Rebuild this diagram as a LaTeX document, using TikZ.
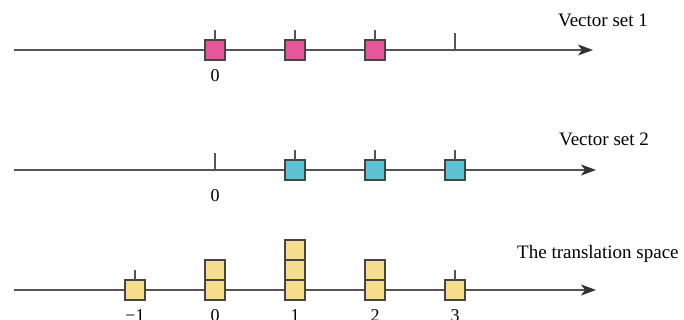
\documentclass[tikz,border=0pt]{standalone}
\usepackage{fontspec}
\setmainfont{Liberation Serif}
\usetikzlibrary{arrows.meta}
\definecolor{axisgray}{HTML}{555555}
\definecolor{cellgray}{HTML}{454545}
\definecolor{pinkfill}{HTML}{E4579B}
\definecolor{cyanfill}{HTML}{5DC3D3}
\definecolor{yellowfill}{HTML}{F6DD8E}
\begin{document}
\begin{tikzpicture}[x=1pt,y=1pt,
  axis/.style={draw=axisgray, line width=1.4pt, -{Stealth[length=15pt,width=11pt,inset=4pt,color=black!80]}},
  tickline/.style={draw=axisgray, line width=1.3pt},
  cell/.style={draw=cellgray, line width=1.1pt, minimum size=20pt, inner sep=0pt, outer sep=0pt},
  pinkcell/.style={cell, fill=pinkfill},
  cyancell/.style={cell, fill=cyanfill},
  yellowcell/.style={cell, fill=yellowfill},
  lbl/.style={font=\fontsize{18}{20}\selectfont, inner sep=0pt},
  title/.style={font=\fontsize{19}{22}\selectfont, inner sep=0pt}
]
\useasboundingbox (0,0) rectangle (684,-320);

% ---------- vector set 1 ----------
\coordinate (a1s) at (14,-50);
\coordinate (a1e) at (593,-50);
\draw[axis] (a1s) -- (a1e);
\node[pinkcell] (p0) at (215,-50) {};
\node[pinkcell] (p1) at (295,-50) {};
\node[pinkcell] (p2) at (375,-50) {};
\coordinate (t13) at (455,-50);
\foreach \n in {p0,p1,p2} \draw[tickline] (\n.north) -- ++(0,10);
\draw[tickline] (t13) -- ++(0,17);
\node[lbl] (l10) at (215,-76) {0};
\node[title] (v1) at (603,-20) {Vector set 1};

% ---------- vector set 2 ----------
\coordinate (a2s) at (14,-170);
\coordinate (a2e) at (596,-170);
\draw[axis] (a2s) -- (a2e);
\coordinate (t20) at (215,-170);
\draw[tickline] (t20) -- ++(0,17);
\node[cyancell] (c1) at (295,-170) {};
\node[cyancell] (c2) at (375,-170) {};
\node[cyancell] (c3) at (455,-170) {};
\foreach \n in {c1,c2,c3} \draw[tickline] (\n.north) -- ++(0,10);
\node[lbl] (l20) at (215,-196) {0};
\node[title] (v2) at (604,-139) {Vector set 2};

% ---------- translation space ----------
\coordinate (a3s) at (14,-290);
\coordinate (a3e) at (596,-290);
\draw[axis] (a3s) -- (a3e);
\node[yellowcell] (ym1) at (135,-290) {};
\node[yellowcell] (y0a) at (215,-290) {};
\node[yellowcell] (y0b) at (215,-270) {};
\node[yellowcell] (y1a) at (295,-290) {};
\node[yellowcell] (y1b) at (295,-270) {};
\node[yellowcell] (y1c) at (295,-250) {};
\node[yellowcell] (y2a) at (375,-290) {};
\node[yellowcell] (y2b) at (375,-270) {};
\node[yellowcell] (y3) at (455,-290) {};
\draw[tickline] (ym1.north) -- ++(0,10);
\draw[tickline] (y3.north) -- ++(0,10);
\node[lbl, anchor=north] (lm1) at (135,-309) {−1};
\node[lbl, anchor=north] (l30) at (215,-309) {0};
\node[lbl, anchor=north] (l31) at (295,-309) {1};
\node[lbl, anchor=north] (l32) at (375,-309) {2};
\node[lbl, anchor=north] (l33) at (455,-309) {3};
\node[title, anchor=west] (v3) at (517,-254) {The translation space};
\end{tikzpicture}
\end{document}
